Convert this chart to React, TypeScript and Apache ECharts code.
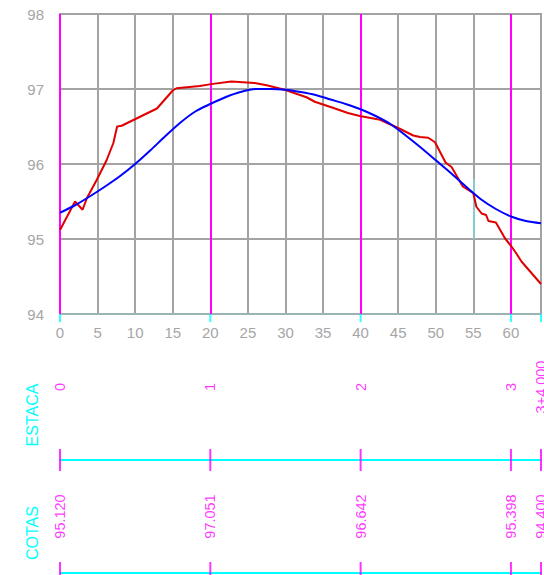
import React, { useEffect, useRef } from "react";
import * as echarts from "echarts";

// Terrain profile (red) [distance, elevation]
const terrain: [number, number][] = [
  [0, 95.12], [2, 95.5], [3, 95.39], [3.6, 95.55], [4.9, 95.79], [6.2, 96.05],
  [7.1, 96.28], [7.6, 96.5], [8.2, 96.51], [12.9, 96.74], [15.0, 96.98],
  [15.5, 97.01], [18.6, 97.04], [20.1, 97.065], [22.8, 97.1], [25.9, 97.08],
  [27.5, 97.05], [29.9, 96.99], [32.8, 96.89], [33.9, 96.83], [36.3, 96.75],
  [38.3, 96.68], [39.9, 96.64], [42.6, 96.59], [45.2, 96.47], [47.0, 96.38],
  [47.9, 96.36], [49.0, 96.35], [49.9, 96.29], [51.3, 96.02], [52.1, 95.96],
  [53.6, 95.7], [55.0, 95.61], [55.4, 95.43], [56.1, 95.34], [56.7, 95.32],
  [57.0, 95.24], [58.0, 95.22], [59.2, 95.01], [60.0, 94.91], [60.7, 94.81],
  [61.4, 94.7], [64.0, 94.4],
];

// Design grade (blue) [distance, elevation]
const grade: [number, number][] = [
  [0, 95.35], [2, 95.45], [4, 95.57], [6, 95.7], [8, 95.84], [10, 96.0],
  [12, 96.18], [14, 96.37], [16, 96.55], [18, 96.7], [20, 96.8], [22, 96.89],
  [24, 96.96], [26, 97.0], [28, 97.0], [30, 96.99], [32, 96.96], [34, 96.92],
  [36, 96.86], [38, 96.8], [40, 96.73], [42, 96.64], [44, 96.53], [46, 96.38],
  [48, 96.22], [50, 96.05], [52, 95.88], [54, 95.7], [56, 95.53], [58, 95.4],
  [60, 95.3], [62, 95.24], [64, 95.21],
];

const stationPos = [0, 20, 40, 60, 64];
const stationNames = ["0", "1", "2", "3", "3+4.000"];
const cotas = ["95.120", "97.051", "96.642", "95.398", "94.400"];
const majorStations = [0, 20, 40, 60];
const markerLine: [number, number][] = [[55, 95.0], [55, 95.8]];

const MAGENTA = "#ff00ff";
const CYAN = "#00ffff";
const GRAY = "#a3a3a3";
const FONT = "Liberation Sans, Arial, sans-serif";

export default function App() {
  const ref = useRef<HTMLDivElement>(null);
  useEffect(() => {
    document.body.style.margin = "0";
    const chart = echarts.init(ref.current!, null, { renderer: "svg" });
    const hiddenAxis = (gridIndex: number) => ({
      type: "value", gridIndex, min: 0, max: 1, show: false,
    });
    const bandX = (gridIndex: number) => ({
      type: "value", gridIndex, min: 0, max: 64,
      axisLine: { show: true, onZero: false, lineStyle: { color: CYAN, width: 2 } },
      axisTick: { show: false }, axisLabel: { show: false }, splitLine: { show: false },
    });
    chart.setOption({
      animation: false,
      textStyle: { fontFamily: FONT },
      grid: [
        { left: 60, top: 14, width: 481, height: 300, show: true, borderColor: GRAY, borderWidth: 2, backgroundColor: "transparent", outerBoundsMode: "none", containLabel: false },
        { left: 60, top: 314, width: 481, height: 146, outerBoundsMode: "none", containLabel: false },
        { left: 60, top: 460, width: 481, height: 113, outerBoundsMode: "none", containLabel: false },
      ],
      xAxis: [
        {
          type: "value", gridIndex: 0, min: 0, max: 64, interval: 5,
          axisLine: { show: true, lineStyle: { color: "#98b4b4", width: 2 } },
          axisTick: { show: false },
          axisLabel: { color: "#a6a6a6", fontSize: 15, margin: 11, fontFamily: FONT, showMaxLabel: false },
          splitLine: { show: true, lineStyle: { color: GRAY, width: 2 } },
        },
        bandX(1),
        bandX(2),
      ],
      yAxis: [
        {
          type: "value", gridIndex: 0, min: 94, max: 98, interval: 1,
          axisLine: { show: false }, axisTick: { show: false },
          axisLabel: { color: "#a6a6a6", fontSize: 15, margin: 16, fontFamily: FONT },
          splitLine: { show: true, lineStyle: { color: GRAY, width: 2 } },
        },
        hiddenAxis(1),
        hiddenAxis(2),
      ],
      graphic: [
        { type: "text", x: 32, y: 415, rotation: Math.PI / 2, style: { text: "ESTACA", fill: CYAN, font: `16px ${FONT}`, align: "center", verticalAlign: "middle" } },
        { type: "text", x: 32, y: 533, rotation: Math.PI / 2, style: { text: "COTAS", fill: CYAN, font: `16px ${FONT}`, align: "center", verticalAlign: "middle" } },
      ],
      series: [
        {
          type: "line", xAxisIndex: 0, yAxisIndex: 0, data: [], silent: true,
          markLine: {
            symbol: "none", silent: true, label: { show: false },
            lineStyle: { color: MAGENTA, width: 2, type: "solid" },
            data: [
              ...majorStations.map((v) => ({ xAxis: v })),
              [
                { coord: markerLine[0], lineStyle: { color: "#86cccc", width: 2, type: "solid" } },
                { coord: markerLine[1] },
              ],
            ],
          },
        },
        {
          type: "line", xAxisIndex: 0, yAxisIndex: 0, data: terrain, showSymbol: false,
          lineStyle: { color: "#e00000", width: 2 }, z: 5,
        },
        {
          type: "line", xAxisIndex: 0, yAxisIndex: 0, data: grade, showSymbol: false, smooth: 0.3,
          lineStyle: { color: "#0000ff", width: 2 }, z: 6,
        },
        // cyan ticks under the profile axis
        {
          type: "scatter", xAxisIndex: 1, yAxisIndex: 1,
          data: stationPos.map((x) => [x, 1]),
          symbol: "rect", symbolSize: [2, 8], symbolOffset: [0, 4],
          itemStyle: { color: CYAN }, silent: true, clip: false,
        },
        // station labels
        {
          type: "scatter", xAxisIndex: 1, yAxisIndex: 1,
          data: stationPos.map((x, i) => ({ value: [x, 0.5], name: stationNames[i] })),
          symbolSize: 1, itemStyle: { color: "rgba(0,0,0,0)" }, silent: true, clip: false,
          label: {
            show: true, position: "inside", rotate: 90, formatter: "{b}",
            color: MAGENTA, fontSize: 14.5, fontFamily: FONT, align: "center", verticalAlign: "middle",
          },
        },
        // station ticks
        {
          type: "scatter", xAxisIndex: 1, yAxisIndex: 1,
          data: stationPos.map((x) => [x, 0]),
          symbol: "rect", symbolSize: [2, 22], itemStyle: { color: MAGENTA }, silent: true, clip: false, z: 4,
        },
        // cotas labels
        {
          type: "scatter", xAxisIndex: 2, yAxisIndex: 2,
          data: stationPos.map((x, i) => ({ value: [x, 0.5], name: cotas[i] })),
          symbolSize: 1, itemStyle: { color: "rgba(0,0,0,0)" }, silent: true, clip: false,
          label: {
            show: true, position: "inside", rotate: 90, formatter: "{b}",
            color: MAGENTA, fontSize: 14.5, fontFamily: FONT, align: "center", verticalAlign: "middle",
          },
        },
        // cotas ticks
        {
          type: "scatter", xAxisIndex: 2, yAxisIndex: 2,
          data: stationPos.map((x) => [x, 0]),
          symbol: "rect", symbolSize: [2, 22], itemStyle: { color: MAGENTA }, silent: true, clip: false, z: 4,
        },
      ],
    });
    return () => chart.dispose();
  }, []);
  return <div ref={ref} style={{ width: 544, height: 575 }} />;
}
